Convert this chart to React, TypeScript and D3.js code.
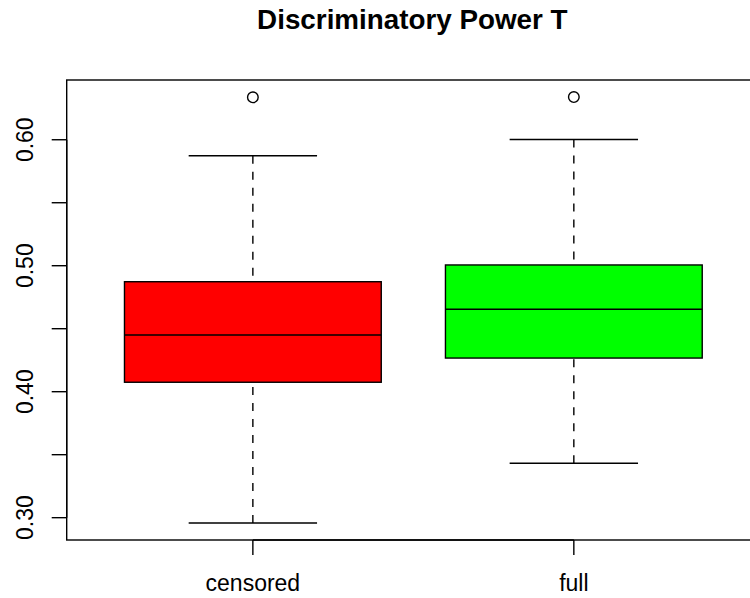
import React from 'react'
import {scaleLinear, min, max, range} from 'd3'

const groups = ['censored', 'full']
const lowerWhisker = [0.2958, 0.3432]
const q1 = [0.4075, 0.4267]
const medians = [0.445, 0.4654]
const q3 = [0.4873, 0.5006]
const upperWhisker = [0.5873, 0.6002]
const outliers = [[0.6337], [0.6339]]
const boxColors = ['#ff0000', '#00ff00']
const yTicks = [0.30, 0.35, 0.40, 0.45, 0.50, 0.55, 0.60]
const yTickLabels = ['0.30', '', '0.40', '', '0.50', '', '0.60']

const W = 750
const H = 598
const left = 66.7
const right = 760
const top = 80
const bottom = 540
const font = 'Liberation Sans, Arial, Helvetica, sans-serif'

const App = () => {
  const lo = min([...lowerWhisker, ...outliers.flat()]) as number
  const hi = max([...upperWhisker, ...outliers.flat()]) as number
  const pad = (hi - lo) * 0.04
  const yScale = scaleLinear().domain([lo - pad, hi + pad]).range([bottom, top])
  const n = groups.length
  const xScale = scaleLinear().domain([0.5 - n * 0.04, n + 0.5 + n * 0.04]).range([left, right])
  const unit = xScale(1) - xScale(0)
  const boxHalf = unit * 0.4
  const capHalf = unit * 0.2

  return (
    <svg width={W} height={H} style={{position: 'fixed', left: 0, top: 0}}>
      <rect x={0} y={0} width={W} height={H} fill="#fff" />
      <text x={(left + right) / 2 - 1} y={29} textAnchor="middle" fontFamily={font}
        fontWeight="bold" fontSize={27.8}>Discriminatory Power T</text>

      {range(n).map(i => {
        const cx = xScale(i + 1)
        return (
          <g key={groups[i]} stroke="#000" strokeWidth={1.4} fill="none">
            <line x1={cx} x2={cx} y1={yScale(upperWhisker[i])} y2={yScale(q3[i])} strokeDasharray="8,8" />
            <line x1={cx} x2={cx} y1={yScale(lowerWhisker[i])} y2={yScale(q1[i])} strokeDasharray="8,8" />
            <line x1={cx - capHalf} x2={cx + capHalf} y1={yScale(upperWhisker[i])} y2={yScale(upperWhisker[i])} />
            <line x1={cx - capHalf} x2={cx + capHalf} y1={yScale(lowerWhisker[i])} y2={yScale(lowerWhisker[i])} />
            <rect x={cx - boxHalf} width={boxHalf * 2} y={yScale(q3[i])}
              height={yScale(q1[i]) - yScale(q3[i])} fill={boxColors[i]} />
            <line x1={cx - boxHalf} x2={cx + boxHalf} y1={yScale(medians[i])} y2={yScale(medians[i])} strokeWidth={1.6} />
            {outliers[i].map((v, j) => (
              <circle key={j} cx={cx} cy={yScale(v)} r={5.3} fill="#fff" />
            ))}
          </g>
        )
      })}

      <rect x={left} y={top} width={right - left} height={bottom - top} fill="none" stroke="#000" strokeWidth={1.4} />

      <g stroke="#000" strokeWidth={1.4}>
        <line x1={left} x2={left} y1={yScale(yTicks[0])} y2={yScale(yTicks[yTicks.length - 1])} />
        {yTicks.map(t => (
          <line key={t} x1={left - 15} x2={left} y1={yScale(t)} y2={yScale(t)} />
        ))}
        <line x1={xScale(1)} x2={xScale(n)} y1={bottom} y2={bottom} />
        {groups.map((g, i) => (
          <line key={g} x1={xScale(i + 1)} x2={xScale(i + 1)} y1={bottom} y2={bottom + 15} />
        ))}
      </g>

      {yTicks.map((t, i) => (
        <text key={t} transform={`translate(33,${yScale(t)}) rotate(-90)`} textAnchor="middle"
          fontFamily={font} fontSize={23}>{yTickLabels[i]}</text>
      ))}
      {groups.map((g, i) => (
        <text key={g} x={xScale(i + 1)} y={591} textAnchor="middle" fontFamily={font} fontSize={23}>{g}</text>
      ))}
    </svg>
  )
}

export default App
